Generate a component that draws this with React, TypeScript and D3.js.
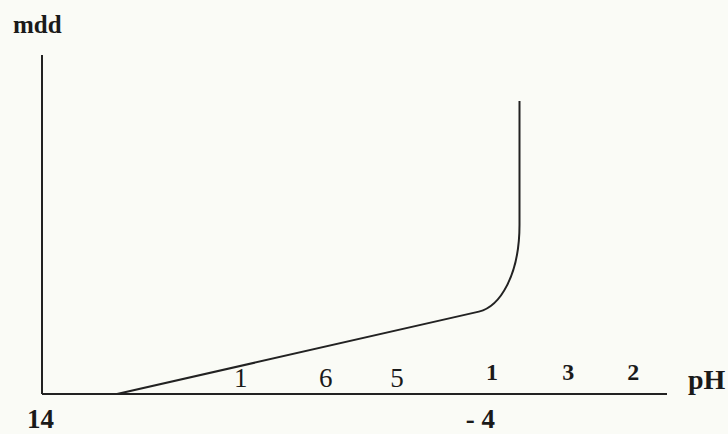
import React from "react";
import { scaleLinear, path as d3path } from "d3";

// curve in axis units (x: 0..100 along pH axis, y: 0..100 along mdd axis)
// start of ramp, end of ramp, two bend handles, end of bend, top
const curveX = [12, 69.9, 73.3, 76.4, 76.4, 76.4];
const curveY = [0, 24.3, 25.8, 35.1, 49.9, 86.4];

// numbers written above the pH axis
const labels = ["1", "6", "5", "1", "3", "2"];
const labelX = [31.8, 45.4, 56.8, 72, 84.2, 94.6];

// tick labels under the axis
const tickLabels = ["14", "- 4"];
const tickX = [-2.4, 67.8];

const W = 728;
const H = 434;
const serif = "Liberation Serif, Times New Roman, serif";

function App() {
  const x = scaleLinear().domain([0, 100]).range([42, 667]);
  const y = scaleLinear().domain([0, 100]).range([394, 55]);

  const px = curveX.map((d) => x(d));
  const py = curveY.map((d) => y(d));
  const p = d3path();
  p.moveTo(px[0], py[0]);
  p.lineTo(px[1], py[1]);
  p.bezierCurveTo(px[2], py[2], px[3], py[3], px[4], py[4]);
  p.lineTo(px[5], py[5]);

  return (
    <div style={{ position: "absolute", left: 0, top: 0 }}>
      <svg width={W} height={H} style={{ display: "block", background: "#fafbf6" }}>
        {/* axes */}
        <line x1={x(0)} y1={y(0)} x2={x(0)} y2={y(100)} stroke="#222" strokeWidth={2} />
        <line x1={x(0)} y1={y(0)} x2={x(100)} y2={y(0)} stroke="#222" strokeWidth={2} />

        <path d={p.toString()} fill="none" stroke="#222" strokeWidth={2} />

        {labels.map((t, i) => (
          <text
            key={i}
            x={x(labelX[i])}
            y={y(0) - (i >= 3 ? 14 : 7)}
            textAnchor="middle"
            fontFamily={serif}
            fontSize={i >= 3 ? 24 : 27}
            fontWeight={i >= 3 ? "bold" : "normal"}
            fill="#1a1a1a"
          >
            {t}
          </text>
        ))}

        {tickLabels.map((t, i) => (
          <text
            key={t}
            x={x(tickX[i])}
            y={428}
            fontFamily={serif}
            fontSize={27}
            fontWeight="bold"
            fill="#1a1a1a"
          >
            {t}
          </text>
        ))}

        <text x={x(0) - 29} y={33} fontFamily={serif} fontSize={25} fontWeight="bold" fill="#1a1a1a">
          mdd
        </text>
        <text x={x(100) + 21} y={389} fontFamily={serif} fontSize={28} fontWeight="bold" fill="#1a1a1a">
          pH
        </text>
      </svg>
    </div>
  );
}

export default App;
